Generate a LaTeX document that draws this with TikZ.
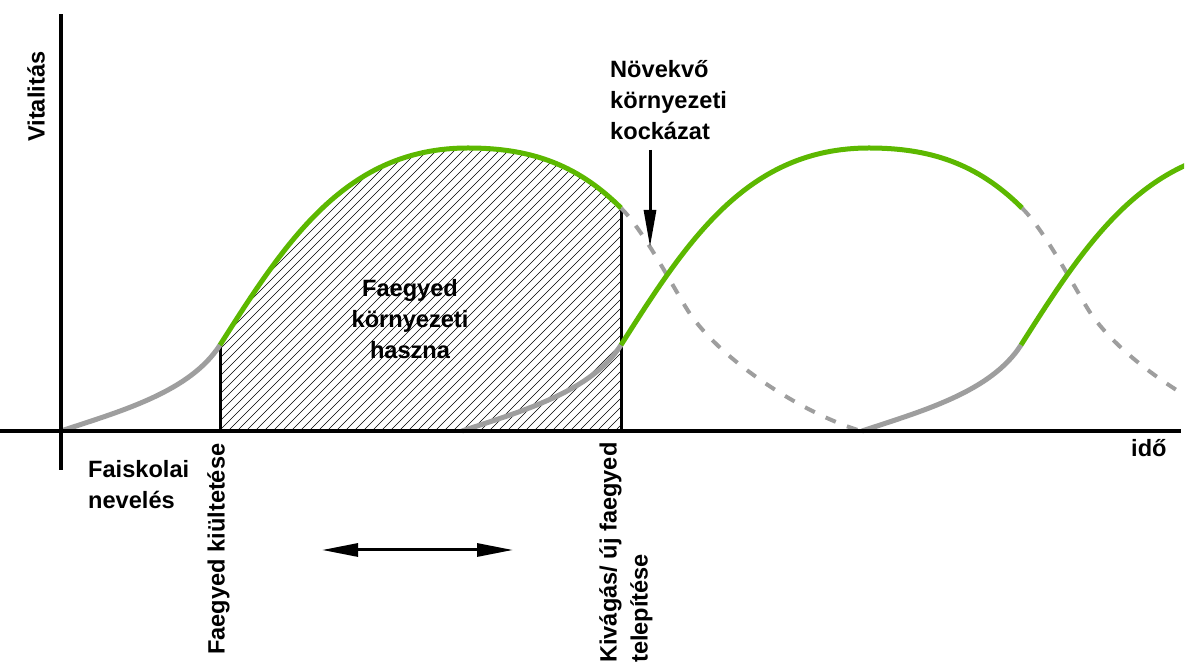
\documentclass[tikz,border=0pt]{standalone}
\usepackage{fontspec}
\setmainfont{Liberation Sans}
\usetikzlibrary{arrows.meta}
\definecolor{leafgreen}{RGB}{92,184,0}
\definecolor{curvegrey}{RGB}{158,158,158}
\begin{document}
\begin{tikzpicture}[x=1pt,y=1pt,
  lbl/.style={font=\fontsize{23.6}{31}\selectfont\bfseries, inner sep=0pt},
  axisline/.style={line width=3.3pt},
  young/.style={curvegrey, line width=5pt},
  mature/.style={leafgreen, line width=5pt},
  decline/.style={curvegrey, line width=4pt, dash pattern=on 11pt off 12pt},
  hatchline/.style={line width=0.6pt},
  marker/.style={line width=3pt},
  bigarrow/.style={line width=3pt, -{Triangle[length=37pt,width=12pt]}},
  dblarrow/.style={line width=3pt, {Triangle[length=36pt,width=13pt]}-{Triangle[length=36pt,width=13pt]}},
  youngseg/.pic={\draw[young] (0,0) .. controls (60,20) and (129,39) .. (159,86);},
  matureseg/.pic={\draw[mature] (159,86) .. controls (225,190) and (285,283) .. (407,283) .. controls (467,283) and (515,268) .. (560,223);},
  declineseg/.pic={\draw[decline] (560,223) .. controls (580,203) and (604,159) .. (624,125) .. controls (654,74) and (740,18) .. (800,0);}
]
\useasboundingbox (0,0) rectangle (1193,671);

% hatched benefit area
\begin{scope}[shift={(61,240)}]
  \clip (159,0) -- (159,86) .. controls (225,190) and (285,283) .. (407,283)
        .. controls (467,283) and (515,268) .. (560,223) -- (560,0) -- cycle;
  \foreach \k in {0,...,80} {\draw[hatchline] (\k*9-130,0) -- ++(300,300);}
\end{scope}

% markers
\coordinate (plantBase) at (220,240);
\coordinate (plantTop) at (220,326);
\coordinate (cutBase) at (621,240);
\coordinate (cutTop) at (621,463);
\draw[marker] (plantBase) -- (plantTop);
\draw[marker] (cutBase) -- (cutTop);

% curves
\begin{scope}
  \clip (0,0) rectangle (1184,671);
  \pic at (61,240) {declineseg};
  \pic at (462,240) {declineseg};
  \pic at (61,240) {youngseg};
  \pic at (462,240) {youngseg};
  \pic at (862,240) {youngseg};
  \pic at (61,240) {matureseg};
  \pic at (462,240) {matureseg};
  \pic at (862,240) {matureseg};
\end{scope}

% axes
\coordinate (xl) at (0,240);
\coordinate (xr) at (1181,240);
\coordinate (yb) at (61,201);
\coordinate (yt) at (61,657);
\draw[axisline] (xl) -- (xr);
\draw[axisline] (yb) -- (yt);

% labels
\node[lbl, align=left, anchor=north west] (risk) at (610,611) {Növekvő\\környezeti\\kockázat};
\node[lbl, align=center, anchor=north] (benefit) at (410,392) {Faegyed\\környezeti\\haszna};
\node[lbl, align=left, anchor=north west] (nursery) at (88,211) {Faiskolai\\nevelés};
\node[lbl, anchor=north west] (time) at (1131,232) {idő};
\node[lbl, rotate=90, anchor=north west] (vital) at (27,529) {Vitalitás};
\node[lbl, rotate=90, anchor=north west] (plant) at (207,16) {Faegyed kiültetése};
\node[lbl, rotate=90, align=left, anchor=north west] (cut) at (599,8) {Kivágás/ új faegyed\\telepítése};

% arrows
\coordinate (riskTop) at (650,521);
\coordinate (riskTip) at (650,424);
\draw[bigarrow] (riskTop) -- (riskTip);
\coordinate (spanL) at (322,121);
\coordinate (spanR) at (513,121);
\draw[dblarrow] (spanL) -- (spanR);
\end{tikzpicture}
\end{document}
